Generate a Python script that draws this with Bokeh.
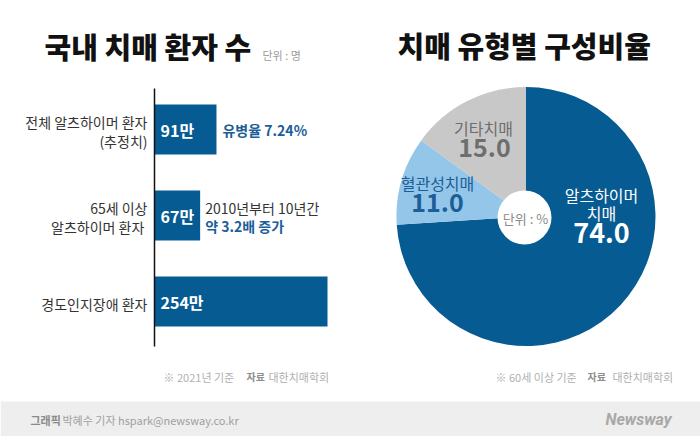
import numpy as np
from bokeh.plotting import figure
from bokeh.models import Range1d
from bokeh.core.properties import value
from bokeh.embed import file_html
from bokeh.resources import INLINE

W, H = 700, 436

# 국내 치매 환자 수 (단위: 만 명)
bar_categories = ["전체 알츠하이머 환자\n(추정치)", "65세 이상\n알츠하이머 환자 ", "경도인지장애 환자"]
bar_values = [91, 67, 254]
bar_value_labels = [f"{v}만" for v in bar_values]
prevalence_note = "유병율 7.24%"
growth_note_1 = "2010년부터 10년간"
growth_note_2 = "약 3.2배 증가"

# 치매 유형별 구성비율 (단위: %)
pie_types = ["알츠하이머\n치매", "혈관성치매", "기타치매"]
pie_values = [74.0, 11.0, 15.0]

FONT = "'Noto Sans CJK KR', 'Noto Sans'"
HEAVY = "'Noto Sans CJK KR Black', 'Noto Sans CJK KR'"
BLUE = "#075b93"
NOTE_BLUE = "#1b5e98"


def T(top):
    """Convert a distance from the top edge into canvas y."""
    return H - top


p = figure(width=W, height=H, x_range=Range1d(0, W), y_range=Range1d(0, H),
           x_axis_type=None, y_axis_type=None, output_backend="svg",
           toolbar_location=None, min_border=0)
p.grid.visible = False
p.outline_line_color = None
p.background_fill_color = "white"
p.border_fill_color = "white"

# ---- titles -------------------------------------------------------------
p.text(x=[44], y=[T(45)], text=["국내 치매 환자 수"], text_font=value(HEAVY),
       text_font_style="bold", text_font_size="29px", text_color="#111111",
       text_baseline="middle", text_align="left")
p.text(x=[262], y=[T(54)], text=["단위 : 명"], text_font=value(FONT),
       text_font_size="11px", text_color="#9a9a9a",
       text_baseline="middle", text_align="left")
p.text(x=[397], y=[T(44)], text=["치매 유형별 구성비율"], text_font=value(HEAVY),
       text_font_style="bold", text_font_size="29px", text_color="#111111",
       text_baseline="middle", text_align="left")

# ---- bar chart ----------------------------------------------------------
px_per_unit = 173 / 254          # horizontal scale of the bars
row_gap = 86                     # pixels between bar centres
first_row = 129                  # first bar centre, from the top
p.extra_x_ranges = {"bar_x": Range1d(-154 / px_per_unit, (W - 154) / px_per_unit)}
s = (H - first_row) / row_gap
p.extra_y_ranges = {"bar_y": Range1d(s, s - H / row_gap)}

rows = list(range(len(bar_values)))
p.hbar(y=rows, left=0, right=bar_values, height=50 / row_gap, fill_color=BLUE,
       line_color=None, x_range_name="bar_x", y_range_name="bar_y")

p.segment(x0=[0], x1=[0], y0=[T(88)], y1=[T(346)], line_color="#111111",
          line_width=1.5, x_range_name="bar_x")

p.text(x=0, y=rows, text=bar_categories, x_offset=-7, y_offset=2,
       text_align="right", text_baseline="middle", text_font=value(FONT),
       text_font_size="14px", text_color="#333333", text_line_height=0.92,
       x_range_name="bar_x", y_range_name="bar_y")

p.text(x=0, y=rows, text=bar_value_labels, x_offset=6, text_align="left",
       text_baseline="middle", text_font=value(FONT), text_font_style="bold",
       text_font_size="16px", text_color="white",
       x_range_name="bar_x", y_range_name="bar_y")

p.text(x=[bar_values[0]], y=[rows[0]], text=[prevalence_note], x_offset=6,
       text_align="left", text_baseline="middle", text_font=value(FONT),
       text_font_style="bold", text_font_size="14px", text_color=NOTE_BLUE,
       x_range_name="bar_x", y_range_name="bar_y")
p.text(x=[bar_values[1]], y=[rows[1]], text=[growth_note_1], x_offset=5,
       y_offset=-8, text_align="left", text_baseline="middle",
       text_font=value(FONT), text_font_size="14px", text_color="#333333",
       x_range_name="bar_x", y_range_name="bar_y")
p.text(x=[bar_values[1]], y=[rows[1]], text=[growth_note_2], x_offset=5,
       y_offset=10, text_align="left", text_baseline="middle",
       text_font=value(FONT), text_font_style="bold", text_font_size="14px",
       text_color=NOTE_BLUE, x_range_name="bar_x", y_range_name="bar_y")

# ---- pie chart ----------------------------------------------------------
pie_colors = [BLUE, "#93c6e8", "#c8c8c8"]
frac = np.array(pie_values) / sum(pie_values)
ends = np.cumsum(frac)
starts = ends - frac
start_angle = np.pi / 2 - 2 * np.pi * starts
end_angle = np.pi / 2 - 2 * np.pi * ends

cx, cy, radius = 525.5, T(216), 129.5
p.wedge(x=cx, y=cy, radius=radius, start_angle=start_angle, end_angle=end_angle,
        direction="clock", fill_color=pie_colors, line_color=None)
p.circle(x=[524], y=[T(217)], radius=27, fill_color="white", line_color=None)
p.text(x=[525], y=[T(218)], text=["단위 : %"], text_font=value(FONT),
       text_font_size="13px", text_color="#8a8a8a", text_align="center",
       text_baseline="middle")

# label anchors: x, top of the last name line, value centre
name_pos = [(601, 212), (437, 182), (483, 127)]
value_pos = [(601, 232), (437, 202), (484, 147)]
name_colors = ["white", NOTE_BLUE, "#6e6e6e"]
value_sizes = ["27px", "25px", "25px"]
line_step = 18
for i in range(len(pie_values)):
    lines = pie_types[i].split("\n")
    for j, line in enumerate(lines):
        top = name_pos[i][1] - (len(lines) - 1 - j) * line_step
        p.text(x=[name_pos[i][0]], y=[T(top)], text=[line],
               text_font=value(FONT), text_font_size="16px",
               text_color=name_colors[i], text_align="center",
               text_baseline="middle")
    p.text(x=[value_pos[i][0]], y=[T(value_pos[i][1])],
           text=[f"{pie_values[i]:.1f}"], text_font=value(FONT),
           text_font_style="bold", text_font_size=value_sizes[i],
           text_color=name_colors[i], text_align="center",
           text_baseline="middle")

# ---- footnotes ----------------------------------------------------------
def footnote(x_basis, x_src, x_org, basis):
    p.text(x=[x_basis], y=[T(376)], text=[basis], text_font=value(FONT),
           text_font_size="11px", text_color="#b0b0b0", text_baseline="middle")
    p.text(x=[x_src], y=[T(376)], text=["자료"], text_font=value(FONT),
           text_font_style="bold", text_font_size="10px", text_color="#8c8c8c",
           text_baseline="middle")
    p.text(x=[x_org], y=[T(376)], text=["대한치매학회"], text_font=value(FONT),
           text_font_size="11px", text_color="#b0b0b0", text_baseline="middle")


footnote(163, 246, 268, "※  2021년 기준")
footnote(495, 587, 612, "※  60세 이상 기준")

# ---- credit band --------------------------------------------------------
p.quad(left=[0], right=[W], bottom=[0], top=[T(401)], fill_color="#eeeeee",
       line_color=None)
p.text(x=[30], y=[T(419)], text=["그래픽"], text_font=value(FONT),
       text_font_style="bold", text_font_size="11px", text_color="#8a8a8a",
       text_baseline="middle")
p.text(x=[62], y=[T(419)], text=["박혜수 기자 hspark@newsway.co.kr"],
       text_font=value(FONT), text_font_size="11px", text_color="#a0a0a0",
       text_baseline="middle")
p.text(x=[638], y=[T(419)], text=["Newsway"],
       text_font=value("'Liberation Sans Narrow', 'Roboto'"),
       text_font_style="bold italic", text_font_size="16px",
       text_color="#a8a8a8", text_align="center", text_baseline="middle")

open("out.html", "w").write(file_html(p, INLINE))
